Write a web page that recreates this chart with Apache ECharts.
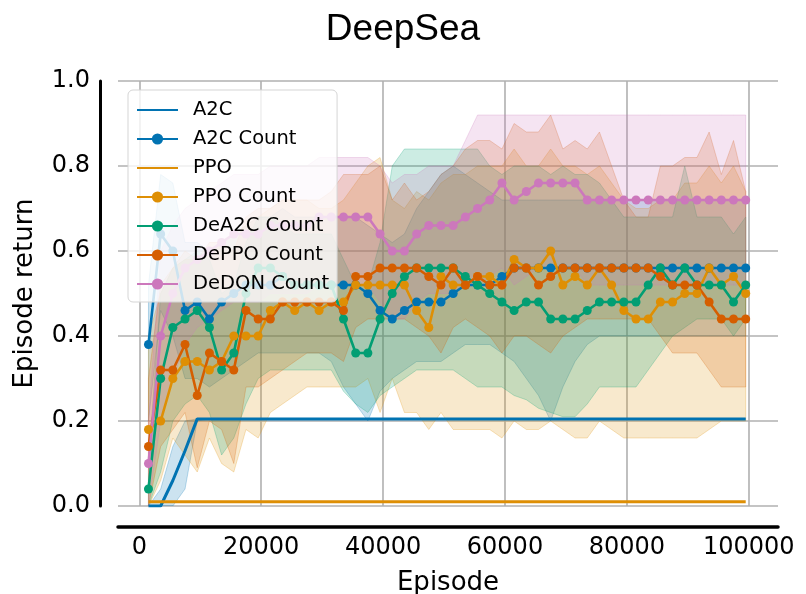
<!DOCTYPE html>
<html lang="en">
<head>
<meta charset="UTF-8">
<title>DeepSea</title>
<style>
    html, body { margin: 0; padding: 0; background: #ffffff; }
    #main { width: 806px; height: 594px; }
</style>
</head>
<body>
<div id="main"></div>
<script src="https://cdn.jsdelivr.net/npm/echarts@6/dist/echarts.min.js"></script>
<script>
// evaluation points (episodes)
var episodes = [1500, 3500, 5500, 7500, 9500, 11500, 13500, 15500, 17500, 19500,
    21500, 23500, 25500, 27500, 29500, 31500, 33500, 35500, 37500, 39500,
    41500, 43500, 45500, 47500, 49500, 51500, 53500, 55500, 57500, 59500,
    61500, 63500, 65500, 67500, 69500, 71500, 73500, 75500, 77500, 79500,
    81500, 83500, 85500, 87500, 89500, 91500, 93500, 95500, 97500, 99500];
var xTicks = [0, 20000, 40000, 60000, 80000, 100000];

// mean returns
var a2c = [0, 0, 0.06, 0.13, 0.205, 0.205, 0.205, 0.205, 0.205, 0.205,
    0.205, 0.205, 0.205, 0.205, 0.205, 0.205, 0.205, 0.205, 0.205, 0.205,
    0.205, 0.205, 0.205, 0.205, 0.205, 0.205, 0.205, 0.205, 0.205, 0.205,
    0.205, 0.205, 0.205, 0.205, 0.205, 0.205, 0.205, 0.205, 0.205, 0.205,
    0.205, 0.205, 0.205, 0.205, 0.205, 0.205, 0.205, 0.205, 0.205, 0.205];
var a2cCount = [0.38, 0.64, 0.60, 0.46, 0.48, 0.44, 0.48, 0.50, 0.52, 0.52,
    0.52, 0.54, 0.52, 0.52, 0.52, 0.52, 0.52, 0.52, 0.50, 0.46,
    0.44, 0.46, 0.48, 0.48, 0.48, 0.50, 0.52, 0.52, 0.52, 0.54,
    0.56, 0.56, 0.56, 0.56, 0.56, 0.56, 0.56, 0.56, 0.56, 0.56,
    0.56, 0.56, 0.56, 0.56, 0.56, 0.56, 0.56, 0.56, 0.56, 0.56];
var ppo = [0.01, 0.01, 0.01, 0.01, 0.01, 0.01, 0.01, 0.01, 0.01, 0.01,
    0.01, 0.01, 0.01, 0.01, 0.01, 0.01, 0.01, 0.01, 0.01, 0.01,
    0.01, 0.01, 0.01, 0.01, 0.01, 0.01, 0.01, 0.01, 0.01, 0.01,
    0.01, 0.01, 0.01, 0.01, 0.01, 0.01, 0.01, 0.01, 0.01, 0.01,
    0.01, 0.01, 0.01, 0.01, 0.01, 0.01, 0.01, 0.01, 0.01, 0.01];
var ppoCount = [0.18, 0.20, 0.30, 0.34, 0.34, 0.32, 0.34, 0.40, 0.40, 0.40,
    0.46, 0.48, 0.46, 0.48, 0.46, 0.48, 0.48, 0.52, 0.52, 0.52,
    0.52, 0.52, 0.46, 0.42, 0.54, 0.52, 0.52, 0.54, 0.54, 0.52,
    0.58, 0.56, 0.56, 0.60, 0.52, 0.54, 0.52, 0.56, 0.52, 0.46,
    0.44, 0.44, 0.48, 0.48, 0.50, 0.50, 0.56, 0.52, 0.54, 0.50];
var deA2cCount = [0.04, 0.30, 0.42, 0.44, 0.46, 0.42, 0.32, 0.36, 0.50, 0.56,
    0.56, 0.54, 0.52, 0.52, 0.52, 0.52, 0.44, 0.36, 0.36, 0.44,
    0.50, 0.54, 0.56, 0.56, 0.56, 0.56, 0.54, 0.52, 0.50, 0.48,
    0.46, 0.48, 0.48, 0.44, 0.44, 0.44, 0.46, 0.48, 0.48, 0.48,
    0.48, 0.52, 0.56, 0.52, 0.56, 0.52, 0.52, 0.52, 0.48, 0.52];
var dePpoCount = [0.14, 0.32, 0.32, 0.38, 0.26, 0.36, 0.34, 0.32, 0.46, 0.44,
    0.44, 0.48, 0.48, 0.48, 0.48, 0.48, 0.46, 0.54, 0.54, 0.56,
    0.56, 0.56, 0.56, 0.54, 0.52, 0.56, 0.52, 0.54, 0.52, 0.52,
    0.56, 0.56, 0.52, 0.54, 0.56, 0.56, 0.56, 0.56, 0.56, 0.56,
    0.56, 0.56, 0.54, 0.52, 0.52, 0.52, 0.48, 0.44, 0.44, 0.44];
var deDqnCount = [0.10, 0.40, 0.50, 0.56, 0.58, 0.60, 0.62, 0.64, 0.64, 0.64,
    0.66, 0.66, 0.66, 0.66, 0.68, 0.68, 0.68, 0.68, 0.68, 0.64,
    0.60, 0.60, 0.64, 0.66, 0.66, 0.66, 0.68, 0.70, 0.72, 0.76,
    0.72, 0.74, 0.76, 0.76, 0.76, 0.76, 0.72, 0.72, 0.72, 0.72,
    0.72, 0.72, 0.72, 0.72, 0.72, 0.72, 0.72, 0.72, 0.72, 0.72];

// shaded ranges (lower / upper)
var a2cLo = [0, 0, 0, 0.04, 0.2, 0.205, 0.205, 0.205, 0.205, 0.205,
    0.205, 0.205, 0.205, 0.205, 0.205, 0.205, 0.205, 0.205, 0.205, 0.205,
    0.205, 0.205, 0.205, 0.205, 0.205, 0.205, 0.205, 0.205, 0.205, 0.205,
    0.205, 0.205, 0.205, 0.205, 0.205, 0.205, 0.205, 0.205, 0.205, 0.205,
    0.205, 0.205, 0.205, 0.205, 0.205, 0.205, 0.205, 0.205, 0.205, 0.205];
var a2cHi = [0, 0.04, 0.14, 0.2, 0.205, 0.205, 0.205, 0.205, 0.205, 0.205,
    0.205, 0.205, 0.205, 0.205, 0.205, 0.205, 0.205, 0.205, 0.205, 0.205,
    0.205, 0.205, 0.205, 0.205, 0.205, 0.205, 0.205, 0.205, 0.205, 0.205,
    0.205, 0.205, 0.205, 0.205, 0.205, 0.205, 0.205, 0.205, 0.205, 0.205,
    0.205, 0.205, 0.205, 0.205, 0.205, 0.205, 0.205, 0.205, 0.205, 0.205];
var a2cCountLo = [0.20, 0.46, 0.40, 0.30, 0.30, 0.28, 0.30, 0.32, 0.34, 0.36,
    0.36, 0.36, 0.36, 0.36, 0.36, 0.34, 0.28, 0.24, 0.20, 0.27,
    0.30, 0.32, 0.34, 0.34, 0.34, 0.36, 0.38, 0.38, 0.38, 0.36,
    0.34, 0.30, 0.26, 0.20, 0.28, 0.34, 0.38, 0.40, 0.40, 0.40,
    0.40, 0.40, 0.40, 0.40, 0.40, 0.40, 0.40, 0.40, 0.40, 0.40];
var a2cCountHi = [0.52, 0.78, 0.76, 0.62, 0.62, 0.60, 0.62, 0.64, 0.66, 0.68,
    0.68, 0.70, 0.68, 0.68, 0.68, 0.68, 0.68, 0.68, 0.66, 0.64,
    0.62, 0.64, 0.70, 0.74, 0.78, 0.80, 0.78, 0.76, 0.74, 0.72,
    0.72, 0.72, 0.72, 0.72, 0.72, 0.72, 0.72, 0.72, 0.72, 0.72,
    0.72, 0.72, 0.72, 0.72, 0.72, 0.72, 0.72, 0.72, 0.72, 0.72];
var ppoCountLo = [0.00, 0.06, 0.16, 0.12, 0.08, 0.16, 0.10, 0.08, 0.18, 0.16,
    0.22, 0.24, 0.26, 0.28, 0.28, 0.28, 0.28, 0.28, 0.30, 0.22,
    0.30, 0.22, 0.22, 0.18, 0.22, 0.18, 0.18, 0.18, 0.18, 0.16,
    0.20, 0.18, 0.18, 0.20, 0.18, 0.16, 0.16, 0.20, 0.18, 0.16,
    0.16, 0.16, 0.16, 0.16, 0.16, 0.16, 0.18, 0.20, 0.20, 0.20];
var ppoCountHi = [0.40, 0.50, 0.56, 0.58, 0.58, 0.60, 0.62, 0.64, 0.66, 0.68,
    0.70, 0.72, 0.72, 0.72, 0.70, 0.70, 0.72, 0.76, 0.80, 0.82,
    0.72, 0.70, 0.74, 0.72, 0.76, 0.78, 0.78, 0.80, 0.80, 0.80,
    0.84, 0.80, 0.80, 0.84, 0.80, 0.80, 0.78, 0.80, 0.76, 0.72,
    0.70, 0.70, 0.72, 0.72, 0.76, 0.76, 0.80, 0.76, 0.80, 0.74];
var deA2cLo = [0.00, 0.08, 0.20, 0.24, 0.26, 0.22, 0.12, 0.16, 0.24, 0.30,
    0.32, 0.32, 0.32, 0.32, 0.32, 0.32, 0.27, 0.24, 0.22, 0.26,
    0.28, 0.30, 0.32, 0.32, 0.32, 0.32, 0.30, 0.28, 0.28, 0.28,
    0.26, 0.25, 0.23, 0.22, 0.21, 0.21, 0.24, 0.28, 0.28, 0.28,
    0.28, 0.32, 0.36, 0.40, 0.42, 0.44, 0.44, 0.44, 0.40, 0.44];
var deA2cHi = [0.10, 0.50, 0.56, 0.58, 0.60, 0.58, 0.50, 0.52, 0.62, 0.68,
    0.68, 0.66, 0.64, 0.64, 0.64, 0.64, 0.58, 0.52, 0.52, 0.62,
    0.80, 0.84, 0.84, 0.84, 0.84, 0.84, 0.84, 0.84, 0.80, 0.78,
    0.80, 0.80, 0.80, 0.78, 0.80, 0.78, 0.78, 0.76, 0.72, 0.68,
    0.68, 0.68, 0.68, 0.68, 0.80, 0.68, 0.68, 0.68, 0.64, 0.68];
var dePpoLo = [0.00, 0.14, 0.18, 0.22, 0.09, 0.20, 0.18, 0.10, 0.28, 0.28,
    0.30, 0.32, 0.34, 0.36, 0.36, 0.36, 0.34, 0.42, 0.44, 0.44,
    0.44, 0.44, 0.42, 0.40, 0.36, 0.42, 0.44, 0.42, 0.40, 0.36,
    0.40, 0.40, 0.38, 0.36, 0.40, 0.42, 0.44, 0.44, 0.44, 0.44,
    0.44, 0.44, 0.40, 0.36, 0.36, 0.36, 0.32, 0.28, 0.28, 0.28];
var dePpoHi = [0.30, 0.52, 0.56, 0.60, 0.58, 0.62, 0.62, 0.60, 0.68, 0.70,
    0.70, 0.72, 0.72, 0.72, 0.72, 0.74, 0.78, 0.78, 0.78, 0.80,
    0.72, 0.76, 0.72, 0.74, 0.78, 0.80, 0.84, 0.86, 0.86, 0.84,
    0.90, 0.88, 0.88, 0.92, 0.84, 0.86, 0.84, 0.88, 0.80, 0.72,
    0.68, 0.68, 0.80, 0.80, 0.82, 0.82, 0.88, 0.78, 0.86, 0.74];
var deDqnLo = [0.00, 0.20, 0.30, 0.38, 0.42, 0.44, 0.46, 0.48, 0.48, 0.48,
    0.50, 0.50, 0.50, 0.50, 0.52, 0.52, 0.52, 0.52, 0.52, 0.48,
    0.44, 0.44, 0.48, 0.50, 0.50, 0.50, 0.52, 0.52, 0.54, 0.56,
    0.52, 0.54, 0.56, 0.56, 0.56, 0.56, 0.52, 0.52, 0.52, 0.52,
    0.52, 0.52, 0.52, 0.52, 0.52, 0.52, 0.52, 0.52, 0.52, 0.52];
var deDqnHi = [0.20, 0.60, 0.66, 0.70, 0.72, 0.74, 0.76, 0.78, 0.78, 0.78,
    0.80, 0.80, 0.80, 0.80, 0.82, 0.82, 0.82, 0.82, 0.82, 0.80,
    0.76, 0.78, 0.78, 0.80, 0.80, 0.80, 0.86, 0.92, 0.92, 0.92,
    0.92, 0.92, 0.92, 0.92, 0.92, 0.92, 0.92, 0.92, 0.92, 0.92,
    0.92, 0.92, 0.92, 0.92, 0.92, 0.92, 0.92, 0.92, 0.92, 0.92];

var BLUE = '#0173b2', ORANGE = '#de8f05', GREEN = '#029e73', VERM = '#d55e00', PINK = '#cc78bc';

function rgba(hex, a) {
    var n = parseInt(hex.slice(1), 16);
    return 'rgba(' + (n >> 16) + ',' + ((n >> 8) & 255) + ',' + (n & 255) + ',' + a + ')';
}

// filled range between lo and hi, placed with the axis scales
function band(color, lo, hi) {
    return {
        type: 'custom', silent: true, z: 1, clip: true,
        data: [[episodes[0], lo[0]]],
        renderItem: function (params, api) {
            var pts = [];
            for (var i = 0; i < episodes.length; i++) pts.push(api.coord([episodes[i], lo[i]]));
            for (var j = episodes.length - 1; j >= 0; j--) pts.push(api.coord([episodes[j], hi[j]]));
            return {
                type: 'polygon',
                shape: { points: pts },
                style: { fill: rgba(color, 0.2), stroke: rgba(color, 0.25), lineWidth: 1 }
            };
        }
    };
}

function line(name, color, vals, dots) {
    return {
        type: 'line', name: name, z: 3,
        data: episodes.map(function (x, i) { return [x, vals[i]]; }),
        symbol: dots ? 'circle' : 'none', symbolSize: 9, showSymbol: dots,
        lineStyle: { color: color, width: dots ? 2.6 : 3 },
        itemStyle: { color: color },
        emphasis: { disabled: true }
    };
}

var chart = echarts.init(document.getElementById('main'));
var option = {
    backgroundColor: '#ffffff',
    animation: false,
    title: {
        text: 'DeepSea', left: 'center', top: 6,
        textStyle: { fontFamily: 'Liberation Sans', fontSize: 37, fontWeight: 'normal', color: '#000' }
    },
    legend: {
        orient: 'vertical', left: 128, top: 90,
        data: [
            { name: 'A2C', itemStyle: { opacity: 0 } },
            'A2C Count',
            { name: 'PPO', itemStyle: { opacity: 0 } },
            'PPO Count', 'DeA2C Count', 'DePPO Count', 'DeDQN Count'
        ],
        itemWidth: 41, itemHeight: 14, itemGap: 9,
        padding: [10, 8, 8, 8],
        backgroundColor: 'rgba(255,255,255,0.8)',
        borderColor: '#d5d5d5', borderWidth: 1, borderRadius: 5,
        textStyle: { fontFamily: 'DejaVu Sans', fontSize: 19.5, color: '#000', lineHeight: 20, padding: [0, 0, 0, 10] }
    },
    grid: { left: 118, right: 28, top: 81, bottom: 88, containLabel: false, outerBoundsMode: 'none' },
    xAxis: {
        type: 'value', min: -3500, max: 104800, offset: 21,
        name: 'Episode', nameLocation: 'middle', nameGap: 43,
        nameTextStyle: { fontFamily: 'DejaVu Sans', fontSize: 26, color: '#000' },
        axisLine: { show: true, onZero: false, lineStyle: { color: '#000', width: 3.5 } },
        axisTick: { show: false, customValues: xTicks },
        axisLabel: {
            customValues: xTicks, fontFamily: 'DejaVu Sans', fontSize: 24, color: '#000', margin: 9,
            formatter: function (v) { return String(v); }
        },
        splitLine: { show: true, lineStyle: { color: '#b0b0b0', width: 1.6 } }
    },
    yAxis: {
        type: 'value', min: 0, max: 1, interval: 0.2, offset: 18,
        name: 'Episode return', nameLocation: 'middle', nameGap: 62,
        nameTextStyle: { fontFamily: 'DejaVu Sans', fontSize: 26, color: '#000' },
        axisLine: { show: true, onZero: false, lineStyle: { color: '#000', width: 3 } },
        axisTick: { show: false },
        axisLabel: {
            fontFamily: 'DejaVu Sans', fontSize: 24, color: '#000', margin: 10,
            formatter: function (v) { return v.toFixed(1); }
        },
        splitLine: { show: true, lineStyle: { color: '#b0b0b0', width: 1.6 } }
    },
    series: [
        band(BLUE, a2cLo, a2cHi),
        band(BLUE, a2cCountLo, a2cCountHi),
        band(ORANGE, ppoCountLo, ppoCountHi),
        band(GREEN, deA2cLo, deA2cHi),
        band(VERM, dePpoLo, dePpoHi),
        band(PINK, deDqnLo, deDqnHi),
        line('A2C', BLUE, a2c, false),
        line('A2C Count', BLUE, a2cCount, true),
        line('PPO', ORANGE, ppo, false),
        line('PPO Count', ORANGE, ppoCount, true),
        line('DeA2C Count', GREEN, deA2cCount, true),
        line('DePPO Count', VERM, dePpoCount, true),
        line('DeDQN Count', PINK, deDqnCount, true)
    ]
};
chart.setOption(option);
</script>
</body>
</html>
